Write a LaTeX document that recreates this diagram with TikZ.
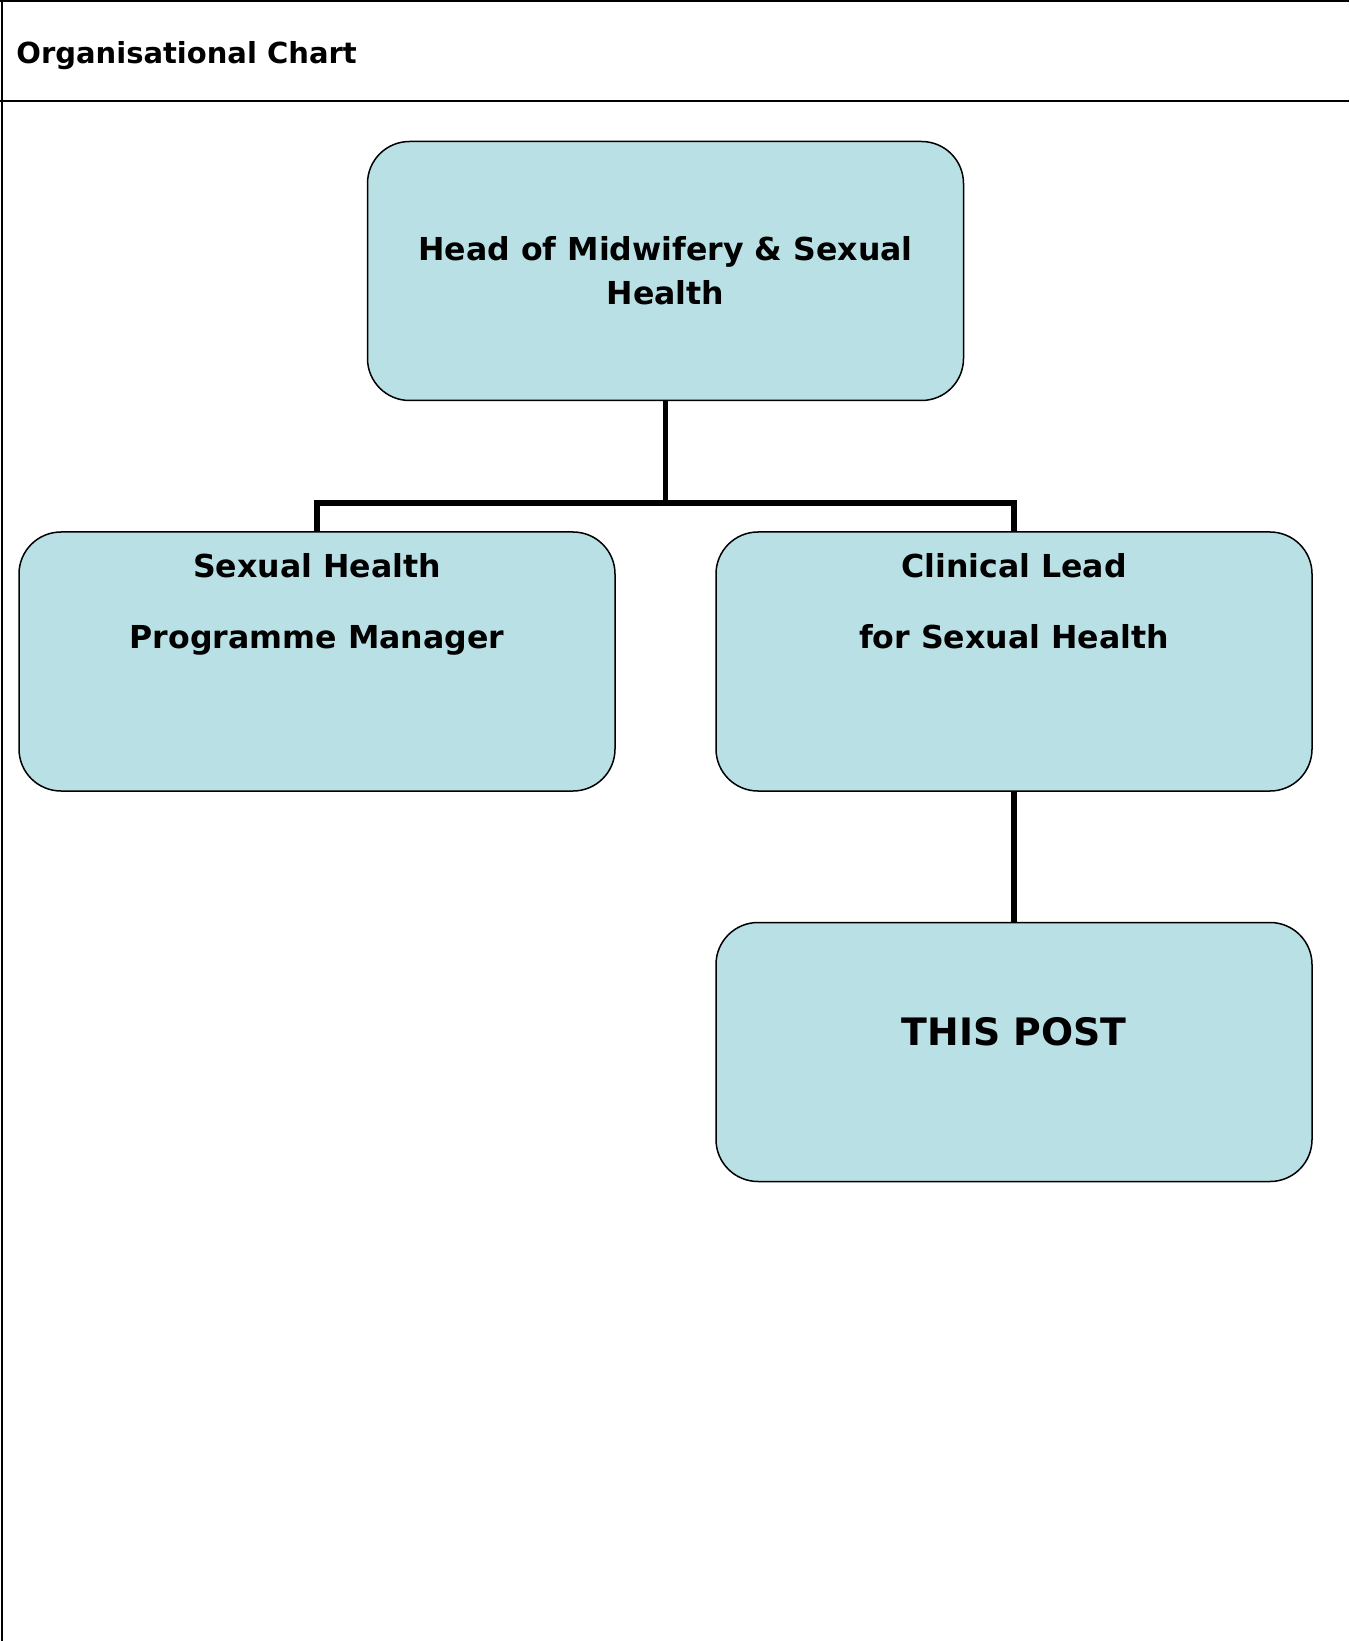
\documentclass[tikz,border=0pt]{standalone}
\usepackage{fontspec}
\setmainfont{DejaVu Sans}
\definecolor{boxfill}{RGB}{185,224,228}
\begin{document}
\begin{tikzpicture}[x=0.5pt, y=-0.5pt,
    orgbox/.style={draw, line width=0.75pt, fill=boxfill, rounded corners=21pt,
      minimum width=298pt, minimum height=129.5pt, inner sep=0pt, align=center,
      font=\fontsize{15.8pt}{22pt}\selectfont\bfseries},
    boxtext/.style={inner sep=0pt, align=center, font=\fontsize{15.8pt}{22pt}\selectfont\bfseries},
    link/.style={line width=2.75pt, line join=miter}]
    \useasboundingbox (0,0) rectangle (1349,1641);
    % frame and heading
    \draw[line width=1pt] (0,1) -- (1349,1);
    \draw[line width=1pt] (0,101) -- (1349,101);
    \draw[line width=1pt] (2,0) -- (2,1641);
    \node[anchor=west, inner sep=0pt, font=\fontsize{14.5pt}{17pt}\selectfont\bfseries] (title) at (16,56) {Organisational Chart};
    % boxes
    \node[orgbox] (head) at (665.5,271) {Head of Midwifery \& Sexual\\Health};
    \node[orgbox] (spm)  at (317,661.5) {};
    \node[orgbox] (lead) at (1014,661.5) {};
    \node[orgbox] (post) at (1014,1052) {};
    \node[boxtext, anchor=north] (spmtext)  at (317,553.5)  {Sexual Health\\[13.5pt]Programme Manager};
    \node[boxtext, anchor=north] (leadtext) at (1014,553.5) {Clinical Lead\\[13.5pt]for Sexual Health};
    \node[boxtext, font=\fontsize{18.9pt}{22pt}\selectfont\bfseries] (posttext) at (1014,1032) {THIS POST};
    % lines
    \coordinate (split) at (665.5,503);
    \draw[link] (head.south) -- (split);
    \draw[link] (spm.north) |- (split) -| (lead.north);
    \draw[link] (lead.south) -- (post.north);
\end{tikzpicture}
\end{document}
